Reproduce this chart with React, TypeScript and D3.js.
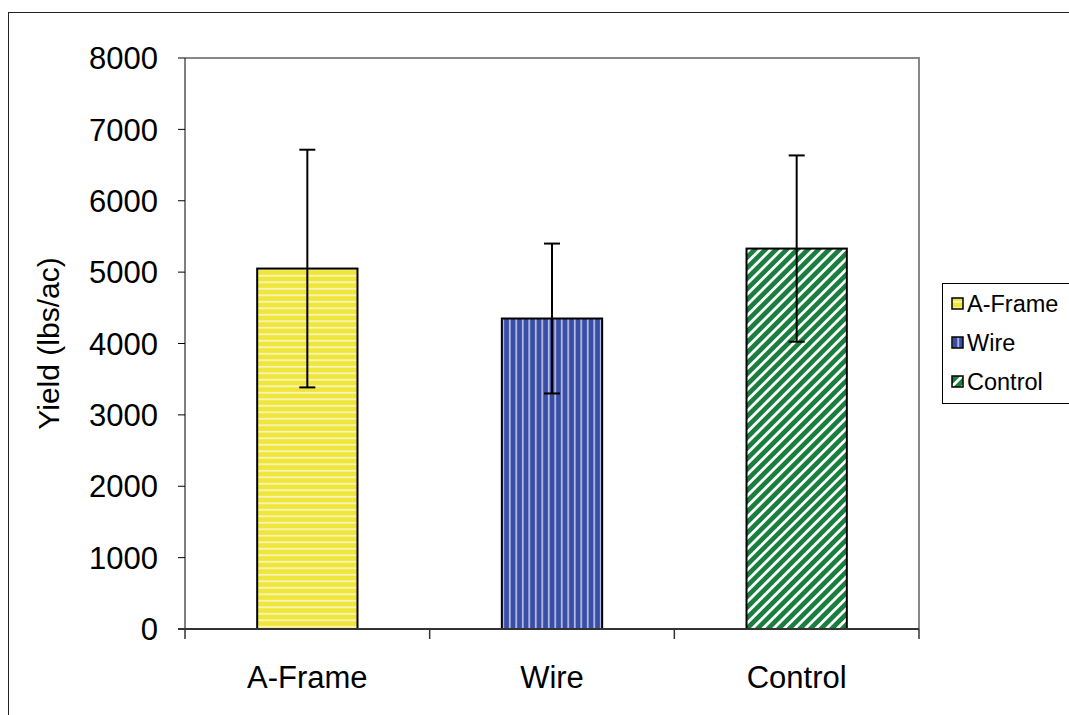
import React from "react";
import * as d3 from "d3";

const categories = ["A-Frame", "Wire", "Control"];
const means = [5050, 4350, 5330];
const errors = [1665, 1050, 1305];
const yTicks = [0, 1000, 2000, 3000, 4000, 5000, 6000, 7000, 8000];
const patternIds = ["pYellow", "pBlue", "pGreen"];

const W = 1069;
const H = 715;
const plot = { left: 185, right: 919, top: 58, bottom: 629 };
const FONT = "'Liberation Sans', Arial, sans-serif";

export default function App() {
  const x = d3.scaleBand<string>().domain(categories).range([plot.left, plot.right]).paddingInner(0.59).paddingOuter(0.295);
  const y = d3.scaleLinear().domain([0, 8000]).range([plot.bottom, plot.top]);
  const bw = x.bandwidth();
  const boundaries = [0, 1, 2, 3].map((i) => plot.left + i * ((plot.right - plot.left) / 3));

  return (
    <svg width={W} height={H} style={{ position: "absolute", left: 0, top: 0 }}>
      <defs>
        <pattern id="pYellow" width={6} height={6.5} patternUnits="userSpaceOnUse">
          <rect width={6} height={6.5} fill="#efe63c" />
          <rect y={2} width={6} height={1.5} fill="#fbf7d0" />
        </pattern>
        <pattern id="pBlue" width={6.5} height={6} patternUnits="userSpaceOnUse">
          <rect width={6.5} height={6} fill="#3a4ea6" />
          <rect x={2} width={1.5} height={6} fill="#c9d0ee" />
        </pattern>
        <pattern id="pGreen" width={7.5} height={10} patternUnits="userSpaceOnUse" patternTransform="rotate(45)">
          <rect width={7.5} height={10} fill="#1a7f3e" />
          <rect x={0} width={2.8} height={10} fill="#ffffff" />
        </pattern>
      </defs>
      <rect x={0} y={0} width={W} height={H} fill="#fff" />
      {/* outer chart border */}
      <rect x={8.5} y={12.5} width={W + 10} height={H + 10} fill="none" stroke="#222" strokeWidth={1} />

      {/* plot area border (top, right) */}
      <path d={`M${plot.left},${plot.top}H${plot.right}V${plot.bottom}`} fill="none" stroke="#888" strokeWidth={2} />

      {/* bars */}
      {categories.map((c, i) => (
        <rect
          key={c}
          x={x(c)!}
          y={y(means[i])}
          width={bw}
          height={plot.bottom - y(means[i])}
          fill={`url(#${patternIds[i]})`}
          stroke="#000"
          strokeWidth={2}
        />
      ))}

      {/* error bars */}
      {categories.map((c, i) => {
        const cx = x(c)! + bw / 2;
        const t = y(means[i] + errors[i]);
        const b = y(means[i] - errors[i]);
        return (
          <g key={c} stroke="#000" strokeWidth={2}>
            <line x1={cx} x2={cx} y1={t} y2={b} />
            <line x1={cx - 8} x2={cx + 8} y1={t} y2={t} />
            <line x1={cx - 8} x2={cx + 8} y1={b} y2={b} />
          </g>
        );
      })}

      {/* y axis */}
      <line x1={plot.left} x2={plot.left} y1={plot.top} y2={plot.bottom} stroke="#000" strokeWidth={1} />
      {yTicks.map((t) => (
        <g key={t}>
          <line x1={plot.left - 7} x2={plot.left} y1={y(t)} y2={y(t)} stroke="#000" strokeWidth={1} />
          <text x={158} y={y(t)} dy="0.36em" textAnchor="end" fontFamily={FONT} fontSize={31} fill="#000">
            {t}
          </text>
        </g>
      ))}

      {/* x axis */}
      <line x1={plot.left - 7} x2={plot.right} y1={plot.bottom} y2={plot.bottom} stroke="#333" strokeWidth={2} />
      {boundaries.map((b, i) => (
        <line key={i} x1={b} x2={b} y1={plot.bottom} y2={plot.bottom + 10} stroke="#333" strokeWidth={1.5} />
      ))}
      {categories.map((c) => (
        <text key={c} x={x(c)! + bw / 2} y={688} textAnchor="middle" fontFamily={FONT} fontSize={31} fill="#000">
          {c}
        </text>
      ))}

      {/* y title */}
      <text
        transform={`translate(59,${(plot.top + plot.bottom) / 2}) rotate(-90)`}
        textAnchor="middle"
        fontFamily={FONT}
        fontSize={30}
        fill="#000"
      >
        Yield (lbs/ac)
      </text>

      {/* legend */}
      <rect x={942.5} y={283.5} width={140} height={120} fill="#fff" stroke="#000" strokeWidth={1} />
      {categories.map((c, i) => {
        const cy = 304 + i * 39;
        return (
          <g key={c}>
            <rect x={952} y={cy - 6} width={11} height={11} fill={`url(#${patternIds[i]})`} stroke="#000" strokeWidth={1.5} />
            <text x={967} y={cy} dy="0.36em" fontFamily={FONT} fontSize={23.5} fill="#000">
              {c}
            </text>
          </g>
        );
      })}
    </svg>
  );
}
